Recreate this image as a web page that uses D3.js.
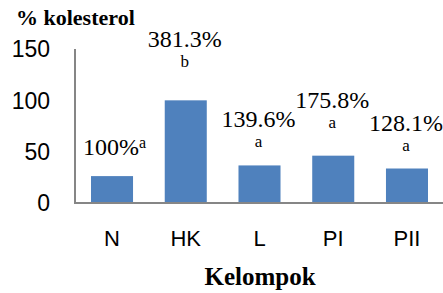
<!DOCTYPE html>
<html>
<head>
<meta charset="utf-8">
<script src="https://cdn.jsdelivr.net/npm/d3@7"></script>
<style>
  html, body { margin: 0; padding: 0; background: #fff; }
  svg { display: block; }
</style>
</head>
<body>
<div id="chart"></div>
<script>
// data
const categories = ["N", "HK", "L", "PI", "PII"];
const values = [26.2, 100, 36.6, 46.1, 33.6];
const percentLabels = ["100%", "381.3%", "139.6%", "175.8%", "128.1%"];
const letters = ["a", "b", "a", "a", "a"];
const yTicks = [0, 50, 100, 150];

const width = 443, height = 293;
const plot = {left: 75, right: 444, top: 49, bottom: 203};

// label placement relative to bar top (px), tuned by eye
const labelDy = [21, 53, 38, 48, 38];
const letterDy = [0, 33, 18, 28, 18];

const svg = d3.select("#chart")
  .append("svg")
  .attr("width", width)
  .attr("height", height);

const x = d3.scaleBand()
  .domain(categories)
  .range([plot.left, plot.right])
  .paddingInner(0.43)
  .paddingOuter(0.217);

const y = d3.scaleLinear()
  .domain([0, 150])
  .range([plot.bottom, plot.top]);

// bars
svg.append("g")
  .selectAll("rect")
  .data(values)
  .enter().append("rect")
  .attr("x", (d, i) => x(categories[i]))
  .attr("y", d => y(d))
  .attr("width", x.bandwidth())
  .attr("height", d => y(0) - y(d))
  .attr("fill", "#4f81bd");

// axes lines
svg.append("line")
  .attr("x1", plot.left).attr("x2", plot.left)
  .attr("y1", y(150)).attr("y2", y(0) + 1)
  .attr("stroke", "#868686").attr("stroke-width", 2);
svg.append("line")
  .attr("x1", plot.left - 1).attr("x2", width)
  .attr("y1", y(0)).attr("y2", y(0))
  .attr("stroke", "#868686").attr("stroke-width", 2);

// y tick labels
svg.append("g")
  .selectAll("text")
  .data(yTicks)
  .enter().append("text")
  .attr("x", 50)
  .attr("y", d => y(d))
  .attr("dy", "0.36em")
  .attr("text-anchor", "end")
  .style("font-family", "'Liberation Sans', Arial, sans-serif")
  .style("font-size", "23px")
  .text(d => d);

// category labels
svg.append("g")
  .selectAll("text")
  .data(categories)
  .enter().append("text")
  .attr("x", d => x(d) + x.bandwidth() / 2)
  .attr("y", 246)
  .attr("text-anchor", "middle")
  .style("font-family", "'Liberation Sans', Arial, sans-serif")
  .style("font-size", "22px")
  .text(d => d);

// value labels
const serif = "'Liberation Serif', 'Times New Roman', serif";
percentLabels.forEach((lab, i) => {
  const cx = x(categories[i]) + x.bandwidth() / 2;
  const top = y(values[i]);
  if (i === 0) {
    const t = svg.append("text")
      .attr("x", cx - 29)
      .attr("y", top - labelDy[i])
      .style("font-family", serif)
      .style("font-size", "24px");
    t.append("tspan").text(lab);
    t.append("tspan")
      .attr("dy", -7)
      .style("font-size", "16px")
      .text(letters[i]);
  } else {
    svg.append("text")
      .attr("x", cx - 1)
      .attr("y", top - labelDy[i])
      .attr("text-anchor", "middle")
      .style("font-family", serif)
      .style("font-size", "24px")
      .text(lab);
    svg.append("text")
      .attr("x", cx - 1)
      .attr("y", top - letterDy[i])
      .attr("text-anchor", "middle")
      .style("font-family", serif)
      .style("font-size", "17px")
      .text(letters[i]);
  }
});

// axis titles
svg.append("text")
  .attr("x", 16)
  .attr("y", 25)
  .style("font-family", serif)
  .style("font-weight", "bold")
  .style("font-size", "22px")
  .text("% kolesterol");

svg.append("text")
  .attr("x", 260)
  .attr("y", 285)
  .attr("text-anchor", "middle")
  .style("font-family", serif)
  .style("font-weight", "bold")
  .style("font-size", "25px")
  .text("Kelompok");
</script>
</body>
</html>
